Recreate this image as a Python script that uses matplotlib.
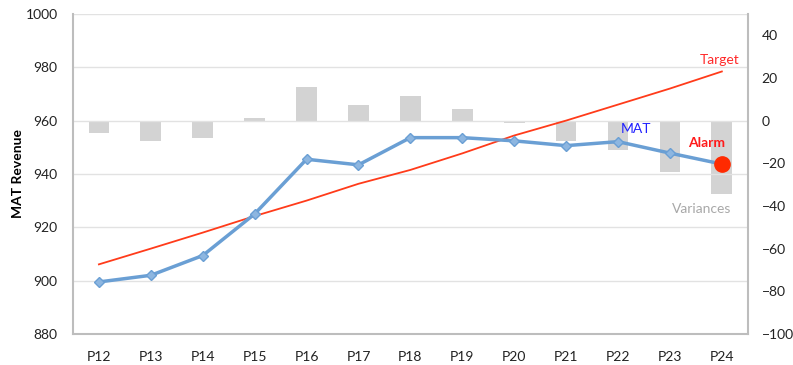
import matplotlib
matplotlib.use("Agg")
import matplotlib.pyplot as plt
import numpy as np

plt.rcParams['font.family'] = ['Lato', 'DejaVu Sans']

periods = ["P12", "P13", "P14", "P15", "P16", "P17", "P18", "P19", "P20", "P21", "P22", "P23", "P24"]
mat = [899.5, 902.0, 909.4, 925.0, 945.5, 943.4, 953.6, 953.6, 952.4, 950.6, 952.1, 947.8, 943.7]
target = [906.1, 912.0, 918.0, 924.2, 930.0, 936.3, 941.5, 947.7, 954.4, 960.0, 966.0, 972.0, 978.4]
variances = [-5.9, -9.5, -8.0, 1.1, 15.6, 7.2, 11.3, 5.2, -1.1, -9.5, -13.7, -24.2, -34.2]
left_ticks = [880, 900, 920, 940, 960, 980, 1000]
right_ticks = [-100, -80, -60, -40, -20, 0, 20, 40]

fig = plt.figure(figsize=(7.93, 3.65), dpi=100)
ax = fig.add_axes([0.092, 0.085, 0.851, 0.877])
ax2 = ax.twinx()

x = np.arange(len(periods))

# bars on the secondary axis (drawn behind)
ax2.bar(x, variances, width=0.4, color="#d3d3d3", zorder=1)
ax2.set_ylim(-100, 50)
ax2.set_yticks(right_ticks)

ax.set_zorder(ax2.get_zorder() + 1)
ax.patch.set_visible(False)

ax.set_ylim(880, 1000)
ax.set_xlim(-0.5, 12.5)
ax.set_yticks(left_ticks)
ax.set_xticks(x)
ax.set_xticklabels(periods)
ax.grid(axis='y', color="#e2e2e2", linewidth=1.0)
ax.set_axisbelow(True)

ax.plot(x, target, color="#ff3b1a", linewidth=1.3, zorder=3)
ax.plot(x, mat, color="#6a9fd4", linewidth=2.5, marker="D", markersize=5,
        markerfacecolor="#8db6e0", markeredgecolor="#6a9fd4", zorder=4)
ax.plot(x[-1], mat[-1], 'o', color="#ff2a00", markersize=11, zorder=5)

ax.text(11.95, 982.6, "Target", color="#ff2a2a", fontsize=10, ha="center", va="center")
ax.text(10.35, 956.8, "MAT", color="#2020ff", fontsize=10, ha="center", va="center")
ax.text(11.7, 951.6, "Alarm", color="#ff1a1a", fontsize=10, fontweight="bold", ha="center", va="center")
ax2.text(11.62, -41.4, "Variances", color="#a8a8a8", fontsize=10, ha="center", va="center")

ax.set_ylabel("MAT Revenue", fontsize=10, fontweight="bold", labelpad=1)

for a in (ax, ax2):
    a.tick_params(length=0, labelsize=10, colors="#222222")
    for s in a.spines.values():
        s.set_visible(False)
ax.tick_params(axis='x', pad=12)
ax.tick_params(axis='y', pad=11)
ax2.tick_params(axis='y', pad=10)

for side in ('left', 'bottom', 'right'):
    ax.spines[side].set_visible(True)
    ax.spines[side].set_color("#bdbdbd")
    ax.spines[side].set_linewidth(1.5)

fig.savefig("out.png", dpi=100, facecolor="white")
